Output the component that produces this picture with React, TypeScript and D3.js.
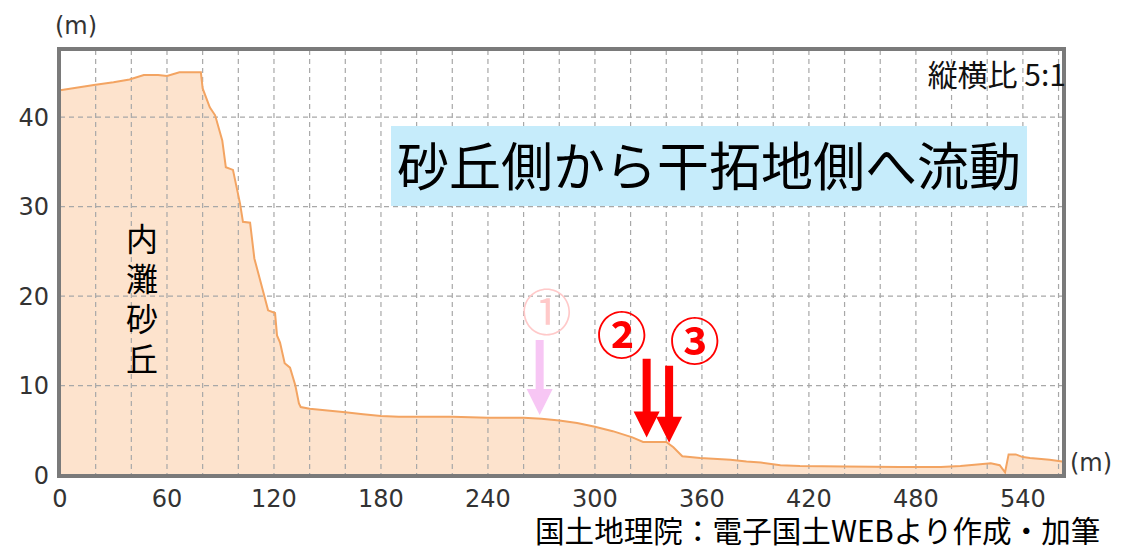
import React from "react";
import * as d3 from "d3";

const distances = [0, 10, 19, 30, 39, 47, 55, 60, 67, 75, 79, 80, 84, 87, 91, 93, 97, 101, 102.6, 106.6, 109, 113, 116.7, 120.6, 121.7, 123.4, 126, 129, 132, 134, 135, 140, 150, 160, 170, 180, 190, 200, 220, 240, 260, 270, 280, 290, 300, 310, 321, 327, 340, 344, 349, 359, 376, 385, 393, 404, 415, 440, 471, 494, 505, 516, 522, 527, 530, 532, 536, 540, 544, 555, 562];
const elevations = [43.0, 43.3, 43.6, 43.9, 44.2, 44.7, 44.7, 44.6, 45.0, 45.0, 45.0, 43.2, 41.1, 40.2, 37.4, 34.4, 34.1, 30.3, 28.3, 28.2, 24.2, 21.2, 18.4, 18.1, 15.6, 14.8, 12.5, 12.0, 10.0, 8.0, 7.6, 7.4, 7.2, 7.0, 6.8, 6.6, 6.5, 6.5, 6.5, 6.4, 6.4, 6.3, 6.1, 5.8, 5.4, 4.9, 4.2, 3.7, 3.7, 3.1, 2.1, 1.9, 1.7, 1.5, 1.4, 1.1, 1.0, 0.95, 0.9, 0.9, 1.0, 1.2, 1.3, 1.1, 0.3, 2.3, 2.3, 2.0, 1.9, 1.7, 1.5];

const xTicks = [0, 60, 120, 180, 240, 300, 360, 420, 480, 540];
const xGrid = d3.range(20, 562, 20);
const yTicks = [0, 10, 20, 30, 40];

// annotation arrows: [distance m, top elevation, tip elevation]
const arrowLabels = ["①", "②", "③"];
const arrowX = [269, 329, 341.6];
const arrowTop = [15.1, 13.0, 12.2];
const arrowTip = [6.7, 4.2, 3.6];
const arrowColors = ["#f7c6f4", "#ff0000", "#ff0000"];
const labelColors = ["#ffc9c9", "#ff0000", "#ff0000"];
const labelX = [273, 315, 356];
const labelY = [18.5, 16.0, 15.3];

const dunesLabel = ["内", "灘", "砂", "丘"];

export default function App() {
  const W = 1122, H = 550;
  const left = 60, right = 1063, top = 50, bottom = 475;
  const x = d3.scaleLinear().domain([0, 562.5]).range([left, right]);
  const y = d3.scaleLinear().domain([0, 47.5]).range([bottom, top]);
  const pts: [number, number][] = distances.map((d, i) => [d, elevations[i]]);
  const area = d3.area<[number, number]>().x(d => x(d[0])).y0(y(0)).y1(d => y(d[1]))(pts) || "";
  const line = d3.line<[number, number]>().x(d => x(d[0])).y(d => y(d[1]))(pts) || "";
  const num = "'DejaVu Sans', Verdana, sans-serif";
  const cjk = "'Noto Sans CJK JP', 'Noto Sans', sans-serif";

  return (
    <svg width={W} height={H} style={{ position: "absolute", left: 0, top: 0, background: "#fff" }}>
      <defs>
        <clipPath id="plotclip">
          <rect x={left} y={top} width={right - left} height={bottom - top} />
        </clipPath>
      </defs>
      <g clipPath="url(#plotclip)">
        <path d={area} fill="#fde3cd" />
        {xGrid.map(v => (
          <line key={"vx" + v} x1={x(v)} x2={x(v)} y1={top} y2={bottom} stroke="#a8a8a8" strokeWidth={1.2} strokeDasharray="5,4" />
        ))}
        {yTicks.slice(1).map(v => (
          <line key={"hy" + v} x1={left} x2={right} y1={y(v)} y2={y(v)} stroke="#a8a8a8" strokeWidth={1.2} strokeDasharray="5,4" />
        ))}
        <path d={line} fill="none" stroke="#f3a462" strokeWidth={2} />
      </g>
      <rect x={left - 1} y={top - 1} width={right - left + 2} height={bottom - top + 2} fill="none" stroke="#7a7a7a" strokeWidth={4} />
      {yTicks.map(v => (
        <text key={"yt" + v} x={49} y={y(v)} dy="0.36em" textAnchor="end" fontFamily={num} fontSize={24} fill="#333">{v}</text>
      ))}
      {xTicks.map(v => (
        <text key={"xt" + v} x={x(v)} y={507} textAnchor="middle" fontFamily={num} fontSize={24} fill="#333">{v}</text>
      ))}
      <text x={76} y={34} textAnchor="middle" fontFamily={num} fontSize={24} fill="#333">(m)</text>
      <text x={1091} y={471} textAnchor="middle" fontFamily={num} fontSize={24} fill="#333">(m)</text>
      <text x={1066} y={86} textAnchor="end" fontFamily={cjk} fontSize={30} fill="#111">縦横比 5:1</text>
      <rect x={391} y={126} width={636} height={80} fill="#c6ecfb" />
      <text x={709} y={186} textAnchor="middle" fontFamily={cjk} fontSize={52} fill="#000">砂丘側から干拓地側へ流動</text>
      <text textAnchor="middle" fontFamily={cjk} fontSize={32} fill="#000">
        {dunesLabel.map((c, i) => (
          <tspan key={"dl" + i} x={142} y={251 + i * 40}>{c}</tspan>
        ))}
      </text>
      {arrowX.map((d, i) => {
        const cx = x(d), yt = y(arrowTop[i]), yb = y(arrowTip[i]);
        const sw = 8, hw = 13, hh = 26;
        const p = `M${cx - sw / 2},${yt} L${cx + sw / 2},${yt} L${cx + sw / 2},${yb - hh} L${cx + hw},${yb - hh} L${cx},${yb} L${cx - hw},${yb - hh} L${cx - sw / 2},${yb - hh} Z`;
        return <path key={"ar" + i} d={p} fill={arrowColors[i]} />;
      })}
      {arrowLabels.map((s, i) => (
        <text key={"al" + i} x={x(labelX[i])} y={y(labelY[i])} textAnchor="middle" dominantBaseline="central" fontFamily={cjk} fontSize={50} fontWeight={i === 0 ? 400 : 700} fill={labelColors[i]}>{s}</text>
      ))}
      <text x={535} y={542} fontFamily={cjk} fontSize={29.6} fill="#000">国土地理院：電子国土WEBより作成・加筆</text>
    </svg>
  );
}
